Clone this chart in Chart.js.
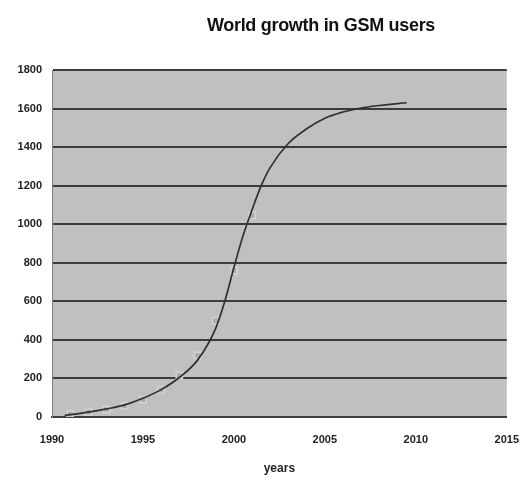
<!DOCTYPE html>
<html>
<head>
<meta charset="utf-8">
<script src="https://cdn.jsdelivr.net/npm/chart.js@4"></script>
<style>
  html, body { margin: 0; padding: 0; background: #ffffff; }
  #wrap { position: relative; width: 531px; height: 482px; }
  #title {
    position: absolute; left: 321px; top: 15px; transform: translateX(-50%);
    font: bold 18px "Liberation Sans", Arial, sans-serif; color: #111;
    white-space: nowrap; letter-spacing: -0.3px;
  }
</style>
</head>
<body>
<div id="wrap">
  <div id="title">World growth in GSM users</div>
  <canvas id="c" width="531" height="482"></canvas>
</div>
<script>
// Measured subscribers (millions) per year
const years = [1991, 1992, 1993, 1994, 1995, 1996, 1997, 1998, 1999, 2000, 2001];
const users = [15, 25, 38, 58, 90, 140, 215, 320, 500, 760, 1045];

// Fitted growth curve
const fitYears = [1990.7, 1991, 1992, 1993, 1994, 1995, 1996, 1997, 1998, 1999, 1999.5, 2000, 2000.5, 2001, 2001.5, 2002, 2003, 2004, 2005, 2006, 2007, 2008, 2009, 2009.5];
const fitUsers = [8, 12, 25, 42, 63, 97, 142, 205, 295, 460, 600, 775, 940, 1075, 1200, 1295, 1420, 1495, 1550, 1582, 1603, 1616, 1626, 1630];

const yTicks = [0, 200, 400, 600, 800, 1000, 1200, 1400, 1600, 1800];
const xTicks = [1990, 1995, 2000, 2005, 2010, 2015];

const plotBg = {
  id: 'plotBg',
  beforeDraw(chart) {
    const { ctx, chartArea: a } = chart;
    ctx.save();
    ctx.fillStyle = '#c0c0c0';
    ctx.fillRect(a.left, a.top, a.right - a.left, a.bottom - a.top);
    ctx.restore();
  }
};

new Chart(document.getElementById('c'), {
  type: 'scatter',
  data: {
    datasets: [
      {
        label: 'fit',
        data: fitYears.map((x, i) => ({ x, y: fitUsers[i] })),
        showLine: true,
        borderColor: '#303030',
        borderWidth: 1.7,
        pointRadius: 0,
        cubicInterpolationMode: 'monotone',
        order: 1
      },
      {
        label: 'users',
        data: years.map((x, i) => ({ x, y: users[i] })),
        showLine: false,
        pointStyle: 'rect',
        pointRadius: 4.5,
        backgroundColor: '#acacac',
        borderColor: '#d4d4d4',
        borderWidth: 1.5,
        order: 2
      }
    ]
  },
  options: {
    responsive: false,
    animation: false,
    layout: { padding: { left: 0, right: 23, top: 70, bottom: 6 } },
    plugins: {
      legend: { display: false },
      tooltip: { enabled: false },
      title: { display: false }
    },
    scales: {
      x: {
        type: 'linear',
        min: 1990,
        max: 2015,
        afterBuildTicks: s => { s.ticks = xTicks.map(v => ({ value: v })); },
        afterFit: s => { s.height = 59; },
        grid: { display: false, drawTicks: true, tickLength: 4 },
        border: { display: true, color: '#404040', width: 2 },
        ticks: {
          color: '#222',
          font: { family: '"Liberation Sans", Arial, sans-serif', size: 11, weight: 'bold' },
          padding: 12,
          maxRotation: 0,
          callback: v => String(v)
        },
        title: {
          display: true,
          text: 'years',
          color: '#222',
          font: { family: '"Liberation Sans", Arial, sans-serif', size: 12, weight: 'bold' },
          padding: { top: 0, bottom: 0 }
        }
      },
      y: {
        min: 0,
        max: 1800,
        afterBuildTicks: s => { s.ticks = yTicks.map(v => ({ value: v })); },
        afterFit: s => { s.width = 52; },
        grid: { color: '#3c3c3c', lineWidth: 2, drawTicks: false },
        border: { display: true, color: '#808080', width: 1 },
        ticks: {
          color: '#222',
          font: { family: '"Liberation Sans", Arial, sans-serif', size: 11, weight: 'bold' },
          padding: 10,
          callback: v => String(v)
        }
      }
    }
  },
  plugins: [plotBg]
});
</script>
</body>
</html>
